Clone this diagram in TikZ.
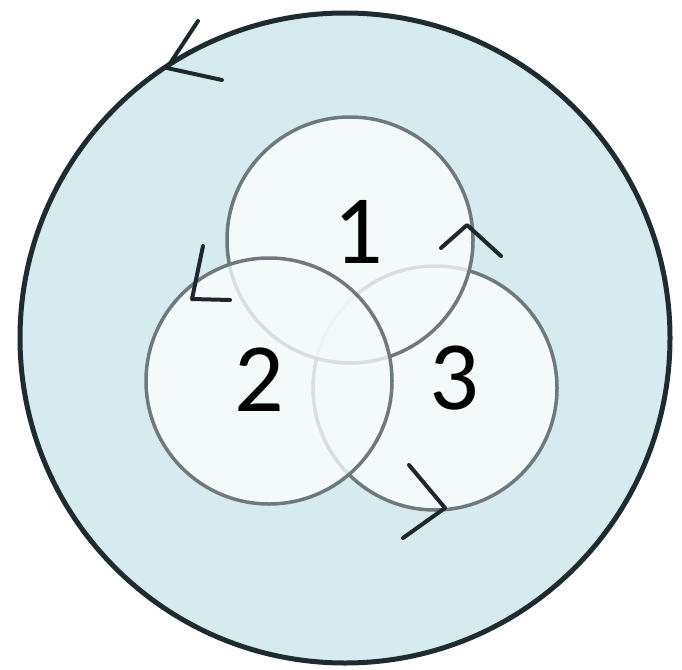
\documentclass[tikz,border=0pt]{standalone}
\usepackage{fontspec}
\setmainfont{Carlito}
\definecolor{outerfill}{HTML}{D6EBF0}
\definecolor{outerline}{HTML}{1E2B31}
\definecolor{innerline}{HTML}{6E797C}
\definecolor{innerfill}{HTML}{F4F9FA}
\definecolor{arrowcol}{HTML}{1C282D}
\begin{document}
\begin{tikzpicture}[x=1pt,y=-1pt,line join=round,line cap=round,
  innercircle/.style={draw=innerline,line width=3.5pt},
  veefill/.style={fill=innerfill,opacity=0.8},
  barb/.style={draw=arrowcol,line width=4pt},
  lbl/.style={font=\fontsize{98}{98}\selectfont,text=black,inner sep=0pt}]
\useasboundingbox (0,0) rectangle (682,669);
\fill[white] (0,0) rectangle (682,669);
\coordinate (O) at (345,338);
\coordinate (c1) at (350,240);
\coordinate (c2) at (269,381);
\coordinate (c3) at (435,388);
% outer circle
\draw[draw=outerline,line width=5pt,fill=outerfill] (O) circle[radius=325pt];
% inner fills
\fill[innerfill] (c1) circle[radius=123pt] (c2) circle[radius=123pt] (c3) circle[radius=122pt];
% circle 3
\draw[innercircle] (c3) circle[radius=122pt];
% circle 1 over it
\fill[veefill] (c1) circle[radius=123pt];
\draw[innercircle] (c1) circle[radius=123pt];
% circle 2 on top
\fill[veefill] (c2) circle[radius=123pt];
\draw[innercircle] (c2) circle[radius=123pt];
% arrowheads
\coordinate (oa) at (198,21);
\coordinate (ot) at (167,68);
\coordinate (ob) at (222,80);
\draw[barb] (oa) -- (ot) -- (ob);
\coordinate (a1) at (441,248);
\coordinate (t1) at (467,225);
\coordinate (b1) at (501,256);
\draw[barb] (a1) -- (t1) -- (b1);
\coordinate (a2) at (203,246);
\coordinate (t2) at (192,299);
\coordinate (b2) at (230,300);
\draw[barb] (a2) -- (t2) -- (b2);
\coordinate (a3) at (409,465);
\coordinate (t3) at (445,508);
\coordinate (b3) at (403,538);
\draw[barb] (a3) -- (t3) -- (b3);
% labels
\node[lbl] (l1) at (358,232) {1};
\node[lbl] (l2) at (259,380) {2};
\node[lbl] (l3) at (454,378) {3};
\end{tikzpicture}
\end{document}
